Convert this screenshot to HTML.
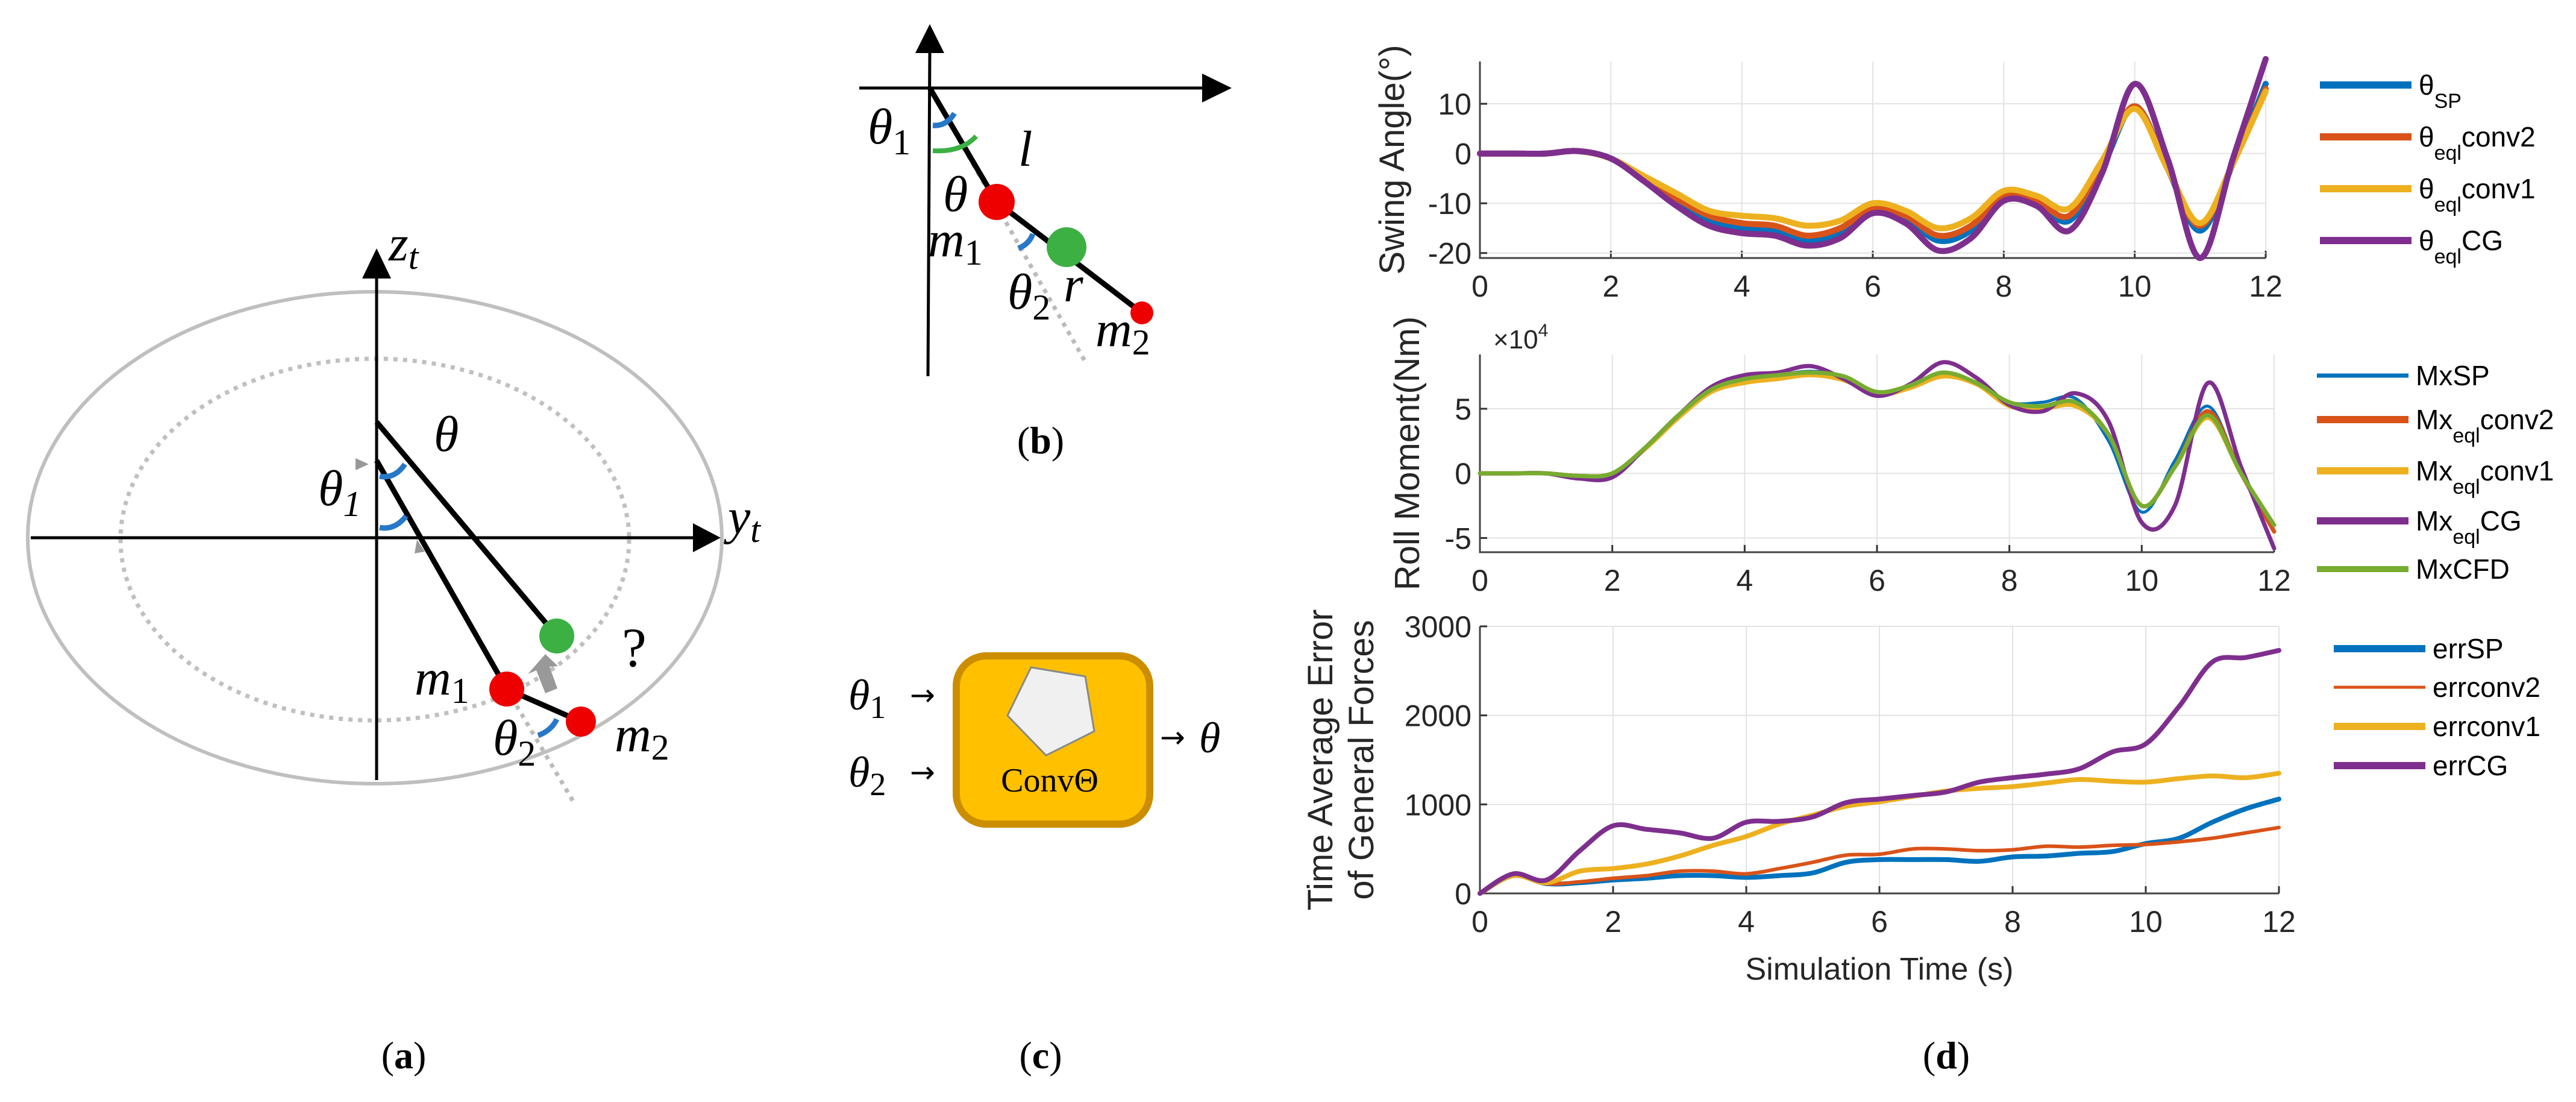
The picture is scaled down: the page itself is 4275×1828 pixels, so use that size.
<!DOCTYPE html>
<html><head><meta charset="utf-8"><style>
html,body{margin:0;padding:0;background:#fff;}
svg{display:block;}
.it{font-family:"Liberation Serif",serif;font-style:italic;}
.sub{font-family:"Liberation Serif",serif;font-style:normal;}
.tk{font-family:"Liberation Sans",sans-serif;font-size:50px;fill:#262626;}
.lg{font-family:"Liberation Sans",sans-serif;font-size:46px;fill:#000;}
</style></head><body>
<svg id="root" width="4275" height="1828" viewBox="0 0 4275 1828" xmlns="http://www.w3.org/2000/svg">
<!-- Panel a -->
<g>
<ellipse cx="622" cy="892" rx="576" ry="408" fill="none" stroke="#bfbfbf" stroke-width="6"/>
<ellipse cx="622" cy="895" rx="422" ry="300" fill="none" stroke="#c0c0c0" stroke-width="7" stroke-dasharray="7 9"/>
<line x1="51" y1="892" x2="1150" y2="892" stroke="#000" stroke-width="5"/>
<polygon points="1150,868 1196,892 1150,916" fill="#000"/>
<line x1="625" y1="1294" x2="625" y2="460" stroke="#000" stroke-width="5"/>
<polygon points="601,462 625,412 649,462" fill="#000"/>
<line x1="841" y1="1143" x2="951" y2="1329" stroke="#bbb" stroke-width="7" stroke-dasharray="7 9"/>
<line x1="625" y1="700" x2="924" y2="1055" stroke="#000" stroke-width="9"/>
<line x1="625" y1="764" x2="841" y2="1143" stroke="#000" stroke-width="9"/>
<line x1="841" y1="1143" x2="964" y2="1197" stroke="#000" stroke-width="9"/>
<polygon points="905,1150 890,1112 876,1118 905,1085 926,1105 912,1106 925,1142" fill="#999"/>
<polygon points="692,895 705,915 688,918" fill="#999"/>
<polygon points="590,760 612,770 590,780" fill="#999"/>
<path d="M630,790 Q655,795 672,770" fill="none" stroke="#2878c8" stroke-width="9"/>
<path d="M630,875 Q655,880 674,856" fill="none" stroke="#2878c8" stroke-width="9"/>
<path d="M893,1220 Q915,1212 924,1193" fill="none" stroke="#2878c8" stroke-width="9"/>
<circle cx="924" cy="1055" r="29" fill="#3cb043"/>
<circle cx="841" cy="1143" r="29" fill="#e00"/>
<circle cx="964" cy="1197" r="25" fill="#e00"/>
<text x="720" y="748" class="it" font-size="84">θ</text>
<text x="528" y="838" class="it" font-size="84">θ<tspan font-size="60" dy="18">1</tspan></text>
<text x="688" y="1152" class="it" font-size="84">m<tspan class="sub" font-size="60" dy="14">1</tspan></text>
<text x="818" y="1252" class="it" font-size="84">θ<tspan class="sub" font-size="60" dy="18">2</tspan></text>
<text x="1020" y="1246" class="it" font-size="84">m<tspan class="sub" font-size="60" dy="14">2</tspan></text>
<text x="1032" y="1105" font-family="Liberation Serif,serif" font-size="92">?</text>
<text x="645" y="432" class="it" font-size="84">z<tspan font-size="60" dy="14">t</tspan></text>
<text x="1208" y="885" class="it" font-size="84">y<tspan font-size="60" dy="14">t</tspan></text>
<text x="670" y="1772" font-family="Liberation Serif,serif" font-size="64" text-anchor="middle">(<tspan font-weight="bold">a</tspan>)</text>
</g>
<!-- Panel b -->
<g>
<line x1="1426" y1="146" x2="1995" y2="146" stroke="#000" stroke-width="5"/>
<polygon points="1995,122 2044,146 1995,170" fill="#000"/>
<line x1="1540" y1="624" x2="1543" y2="85" stroke="#000" stroke-width="5"/>
<polygon points="1519,88 1543,40 1567,88" fill="#000"/>
<line x1="1543" y1="146" x2="1801" y2="600" stroke="#bbb" stroke-width="7" stroke-dasharray="7 9"/>
<line x1="1543" y1="146" x2="1654" y2="335" stroke="#000" stroke-width="9"/>
<line x1="1654" y1="335" x2="1895" y2="519" stroke="#000" stroke-width="9"/>
<path d="M1548,250 Q1595,253 1620,226" fill="none" stroke="#3cb043" stroke-width="8"/>
<path d="M1548,208 Q1570,210 1584,188" fill="none" stroke="#2878c8" stroke-width="9"/>
<path d="M1690,412 Q1708,405 1714,388" fill="none" stroke="#2878c8" stroke-width="9"/>
<circle cx="1654" cy="335" r="30" fill="#e00"/>
<circle cx="1770" cy="410" r="33" fill="#3cb043"/>
<circle cx="1895" cy="519" r="19" fill="#e00"/>
<text x="1440" y="238" class="it" font-size="84">θ<tspan class="sub" font-size="60" dy="18">1</tspan></text>
<text x="1690" y="275" class="it" font-size="84">l</text>
<text x="1565" y="350" class="it" font-size="84">θ</text>
<text x="1540" y="425" class="it" font-size="84">m<tspan class="sub" font-size="60" dy="14">1</tspan></text>
<text x="1672" y="512" class="it" font-size="84">θ<tspan class="sub" font-size="60" dy="18">2</tspan></text>
<text x="1765" y="500" class="it" font-size="84">r</text>
<text x="1818" y="574" class="it" font-size="84">m<tspan class="sub" font-size="60" dy="14">2</tspan></text>
<text x="1727" y="752" font-family="Liberation Serif,serif" font-size="64" text-anchor="middle">(<tspan font-weight="bold">b</tspan>)</text>
</g>
<!-- Panel c -->
<g>
<rect x="1587" y="1088" width="321" height="279" rx="50" fill="#FFC000" stroke="#CC8E00" stroke-width="12"/>
<polygon points="1711,1107 1801,1122 1816,1213 1736,1253 1672,1187" fill="#f0f0f0" stroke="#888" stroke-width="3"/>
<text x="1742" y="1313" font-family="Liberation Serif,serif" font-size="56" text-anchor="middle">ConvΘ</text>
<text x="1408" y="1177" class="it" font-size="72">θ<tspan class="sub" font-size="54" dy="14">1</tspan></text>
<text x="1408" y="1305" class="it" font-size="72">θ<tspan class="sub" font-size="54" dy="14">2</tspan></text>
<text x="1510" y="1170" font-family="DejaVu Sans,sans-serif" font-size="50">→</text>
<text x="1510" y="1298" font-family="DejaVu Sans,sans-serif" font-size="50">→</text>
<text x="1925" y="1240" font-family="DejaVu Sans,sans-serif" font-size="50">→</text>
<text x="1990" y="1248" class="it" font-size="72">θ</text>
<text x="1727" y="1772" font-family="Liberation Serif,serif" font-size="64" text-anchor="middle">(<tspan font-weight="bold">c</tspan>)</text>
</g>
<g id="charts"></g>
<text x="3230" y="1772" font-family="Liberation Serif,serif" font-size="64" text-anchor="middle">(<tspan font-weight="bold">d</tspan>)</text>
</svg>
<script>
// shared time axis
const times = [0,0.5,1,1.5,2,2.5,3,3.5,4,4.5,5,5.5,6,6.5,7,7.5,8,8.5,9,9.5,10,10.5,11,11.5,12];
const xTicks = [0,2,4,6,8,10,12];
// plot 1: swing angle (deg)
const swingSP    = [0,0,0,0.5,-1,-5,-9.5,-13.5,-15,-15.5,-17.5,-16,-11.5,-13,-17.5,-15.5,-9,-10,-13.5,-3,9.5,-3,-15.5,-2,14];
const swingConv2 = [0,0,0,0.5,-1,-5,-9,-12.5,-14,-14.5,-16.5,-15,-11,-12.5,-16.5,-14.5,-8.5,-9.5,-12.5,-2,9.5,-3,-14.5,-2,13];
const swingConv1 = [0,0,0,0.5,-1,-4.5,-8,-11.5,-12.5,-13,-14.5,-13.5,-10,-11.5,-15,-13,-7.5,-8.5,-11,-1.5,9,-3,-14,-2,12.5];
const swingCG    = [0,0,0,0.5,-1,-5.5,-10.5,-14.5,-16,-16.5,-18.5,-17,-12,-14,-19.5,-17,-9.5,-10.5,-15.5,-4,14,-1,-21,-1,19];
const swingTicks = [-20,-10,0,10];
// plot 2: roll moment (x1e4 Nm)
const mxSP    = [0,0,0,-0.2,0,2,4.5,6.5,7.3,7.6,7.9,7.5,6.2,6.8,7.8,7,5.5,5.5,5.8,2.5,-3,1,5.2,0,-4.5];
const mxConv2 = [0,0,0,-0.2,0,2,4.5,6.5,7.2,7.5,7.8,7.4,6.2,6.7,7.7,7,5.3,5.2,5.5,3,-2.5,0.5,4.8,0,-4.5];
const mxConv1 = [0,0,0,-0.2,0,1.9,4.3,6.3,7,7.3,7.6,7.2,6.1,6.6,7.5,6.9,5.2,5,5.2,3,-2.5,0.5,4.3,0,-4];
const mxCG    = [0,0,0,-0.4,-0.3,2,4.5,6.7,7.6,7.8,8.3,7.3,6,6.9,8.6,7.4,5.3,4.8,6.2,4,-3.8,-2.5,7,0.5,-5.8];
const mxCFD   = [0,0,0,-0.2,0,2,4.5,6.5,7.3,7.6,7.8,7.5,6.3,6.8,7.8,7,5.5,5.2,5.5,3,-2.5,0.5,4.5,0,-4];
const mxTicks = [-5,0,5];
// plot 3: time average error
const errSP    = [0,200,110,120,150,170,200,200,180,200,230,350,380,380,380,360,410,420,450,470,560,620,800,950,1060];
const errConv2 = [0,200,110,130,170,200,250,250,220,280,350,430,440,500,500,480,490,530,520,540,550,580,620,680,740];
const errConv1 = [0,200,120,250,280,330,420,540,640,780,880,980,1030,1090,1150,1180,1200,1240,1280,1260,1250,1290,1320,1300,1350];
const errCG    = [0,220,150,480,760,720,680,620,800,810,860,1020,1060,1100,1140,1250,1300,1340,1400,1590,1680,2100,2600,2650,2730];
const errTicks = [0,1000,2000,3000];

const NS = "http://www.w3.org/2000/svg";
const root = document.getElementById('charts');
function mk(tag, attrs, parent){const e=document.createElementNS(NS,tag);for(const k in attrs)e.setAttribute(k,attrs[k]);(parent||root).appendChild(e);return e;}
function smooth(pts){
  let d='M'+pts[0][0].toFixed(1)+','+pts[0][1].toFixed(1);
  for(let i=0;i<pts.length-1;i++){
    const p0=pts[Math.max(0,i-1)],p1=pts[i],p2=pts[i+1],p3=pts[Math.min(pts.length-1,i+2)];
    const c1=[p1[0]+(p2[0]-p0[0])/6,p1[1]+(p2[1]-p0[1])/6];
    const c2=[p2[0]-(p3[0]-p1[0])/6,p2[1]-(p3[1]-p1[1])/6];
    d+=' C'+c1[0].toFixed(1)+','+c1[1].toFixed(1)+' '+c2[0].toFixed(1)+','+c2[1].toFixed(1)+' '+p2[0].toFixed(1)+','+p2[1].toFixed(1);
  }
  return d;
}
function plot(cfg){
  const g=mk('g',{});
  
  
  const xs=t=>cfg.x0+(t-0)/(12-0)*(cfg.x1-cfg.x0);
  const ys=v=>cfg.yb-(v-cfg.ymin)/(cfg.ymax-cfg.ymin)*(cfg.yb-cfg.yt);
  xTicks.forEach(t=>{
    const l=mk('line',{x1:xs(t),x2:xs(t),y1:cfg.yt,y2:cfg.yb,stroke:'#e3e3e3','stroke-width':2},g);
    
    
    const tk=mk('line',{x1:xs(t),x2:xs(t),y1:cfg.yb,y2:cfg.yb-12,stroke:'#333','stroke-width':3},g);
    
    
    const tx=mk('text',{x:xs(t),y:cfg.yb+64,'text-anchor':'middle',class:'tk'},g);
    tx.textContent=t;
    
    
  });
  cfg.ticks.forEach(v=>{
    const l=mk('line',{x1:cfg.x0,x2:cfg.x1,y1:ys(v),y2:ys(v),stroke:'#e3e3e3','stroke-width':2},g);
    
    
    const tk=mk('line',{x1:cfg.x0,x2:cfg.x0+12,y1:ys(v),y2:ys(v),stroke:'#333','stroke-width':3},g);
    
    
    const tx=mk('text',{x:cfg.x0-14,y:ys(v)+18,'text-anchor':'end',class:'tk'},g);
    tx.textContent=v;
    
    
  });
  const ax=mk('path',{d:`M${cfg.x0},${cfg.yt} V${cfg.yb} H${cfg.x1}`,fill:'none',stroke:'#444','stroke-width':3},g);
  
  
  cfg.series.forEach(s=>{
    const pts=s.vals.map((v,i)=>[xs(times[i]),ys(v)]);
    const p=mk('path',{d:smooth(pts),fill:'none',stroke:s.color,'stroke-width':s.w,'stroke-linejoin':'round','stroke-linecap':'round'},g);
    
    
  });
  cfg.series.forEach((s,i)=>{
    const y=cfg.legY[i];
    const l=mk('line',{x1:cfg.legX,x2:cfg.legX+152,y1:y,y2:y,stroke:s.color,'stroke-width':s.lw},g);
    
    
    const t=mk('text',{x:cfg.legX+164,y:y+16,class:'lg'},g);
    t.innerHTML=s.label;
    
    
  });
  const yl=mk('text',{transform:`translate(${cfg.ylx},${(cfg.yt+cfg.yb)/2}) rotate(-90)`,'text-anchor':'middle','font-family':'Liberation Sans,sans-serif','font-size':58,fill:'#262626'},g);
  yl.innerHTML=cfg.ylabel;
  
  
  return {xs,ys};
}
const C={b:'#0072BD',o:'#D95319',y:'#EDB120',p:'#7E2F8E',g:'#77AC30'};
const sub=(a,b,c)=>`${a}<tspan font-size="34" dy="22">${b}</tspan><tspan dy="-22">${c}</tspan>`;
plot({name:'swing-angle-plot',x0:2456,x1:3760,yt:102,yb:428,ymin:-21,ymax:18.5,ticks:swingTicks,
  ylx:2330,ylabel:'Swing Angle(°)',legX:3850,legY:[141,227,313,399],
  series:[{id:'theta-sp',vals:swingSP,color:C.b,w:10,lw:12,label:sub('θ','SP','')},
          {id:'theta-conv2',vals:swingConv2,color:C.o,w:10,lw:12,label:sub('θ','eql','conv2')},
          {id:'theta-conv1',vals:swingConv1,color:C.y,w:10,lw:12,label:sub('θ','eql','conv1')},
          {id:'theta-cg',vals:swingCG,color:C.p,w:10,lw:12,label:sub('θ','eql','CG')}]});
plot({name:'roll-moment-plot',x0:2456,x1:3774,yt:588,yb:916,ymin:-6.1,ymax:9.2,ticks:mxTicks,
  ylx:2355,ylabel:'Roll Moment(Nm)',legX:3845,legY:[623,696,781,864,944],
  series:[{id:'mx-sp',vals:mxSP,color:C.b,w:5,lw:7,label:'MxSP'},
          {id:'mx-conv2',vals:mxConv2,color:C.o,w:7,lw:12,label:sub('Mx','eql','conv2')},
          {id:'mx-conv1',vals:mxConv1,color:C.y,w:7,lw:12,label:sub('Mx','eql','conv1')},
          {id:'mx-cg',vals:mxCG,color:C.p,w:7,lw:12,label:sub('Mx','eql','CG')},
          {id:'mx-cfd',vals:mxCFD,color:C.g,w:7,lw:10,label:'MxCFD'}]});
const mult=mk('text',{x:2478,y:578,'font-family':'Liberation Sans,sans-serif','font-size':44,fill:'#262626'});
mult.innerHTML='×10<tspan font-size="30" dy="-20">4</tspan>';


plot({name:'error-plot',x0:2456,x1:3782,yt:1039,yb:1482,ymin:0,ymax:3000,ticks:errTicks,
  ylx:2245,ylabel:'<tspan x="0" dy="-34">Time Average Error</tspan><tspan x="0" dy="68">of General Forces</tspan>',legX:3873,legY:[1076,1140,1205,1270],
  series:[{id:'err-sp',vals:errSP,color:C.b,w:8,lw:12,label:'errSP'},
          {id:'err-conv2',vals:errConv2,color:C.o,w:6,lw:5,label:'errconv2'},
          {id:'err-conv1',vals:errConv1,color:C.y,w:8,lw:12,label:'errconv1'},
          {id:'err-cg',vals:errCG,color:C.p,w:8,lw:12,label:'errCG'}]});
const xt=mk('text',{x:3119,y:1625,'text-anchor':'middle','font-family':'Liberation Sans,sans-serif','font-size':52,fill:'#262626'});
xt.textContent='Simulation Time (s)';


</script>
</body></html>
